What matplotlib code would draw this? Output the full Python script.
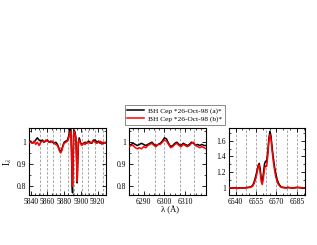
import matplotlib
matplotlib.use("Agg")
import matplotlib.pyplot as plt
from matplotlib.ticker import MultipleLocator

plt.rcParams['font.family'] = ['Liberation Serif', 'DejaVu Serif']
plt.rcParams['mathtext.fontset'] = 'stix'

# ---------------- data ----------------
labels = ["BH Cep *26-Oct-98 (a)*", "BH Cep *26-Oct-98 (b)*"]

w1 = [5838, 5840, 5842, 5844, 5846, 5848, 5850, 5852, 5854, 5856,
      5858, 5860, 5862, 5864, 5866, 5868, 5870, 5872, 5873.5, 5875,
      5876, 5877, 5878.5, 5880, 5882, 5884, 5885.5, 5887, 5888, 5888.8,
      5889.5, 5890, 5890.6, 5891.3, 5892, 5893, 5894, 5894.8, 5895.5, 5896.3,
      5897, 5898, 5899.5, 5901, 5903, 5905, 5907, 5909, 5911, 5913,
      5915, 5917, 5919, 5921, 5923, 5925, 5927, 5930]
f1a = [1.0, 1.005, 0.995, 1.0, 1.01, 1.02, 1.01, 1.005, 1.01, 1.0,
       1.005, 1.01, 1.0, 1.005, 1.0, 0.995, 1.0, 0.99, 0.975, 0.96,
       0.958, 0.965, 0.985, 1.0, 1.005, 1.01, 1.03, 1.065, 1.06, 0.95,
       0.80, 0.77, 0.9, 1.03, 1.055, 1.045, 1.02, 0.92, 0.815, 0.92,
       1.0, 1.02, 1.0, 0.99, 0.995, 1.0, 0.995, 1.005, 1.0, 0.995,
       1.01, 1.01, 1.0, 1.005, 0.995, 1.0, 0.995, 1.0]
f1b = [1.0, 1.0, 0.995, 1.005, 0.99, 1.0, 0.985, 1.0, 1.005, 1.0,
       1.01, 1.005, 1.0, 1.0, 1.005, 0.995, 0.99, 0.985, 0.97, 0.955,
       0.952, 0.96, 0.98, 0.995, 1.0, 1.005, 1.02, 1.045, 1.05, 0.96,
       0.83, 0.80, 0.91, 1.03, 1.05, 1.04, 1.01, 0.93, 0.82, 0.93,
       1.0, 1.01, 0.995, 0.985, 0.995, 0.99, 1.0, 1.0, 0.995, 1.0,
       1.005, 1.0, 0.995, 1.0, 1.005, 0.99, 1.0, 0.995]

w2 = [6283, 6284, 6285, 6286, 6287, 6288, 6289, 6290, 6291, 6292,
      6293, 6294, 6295, 6296, 6297, 6298, 6299, 6300, 6301, 6302,
      6303, 6304, 6305, 6306, 6307, 6308, 6309, 6310, 6311, 6312,
      6313, 6314, 6315, 6316, 6317, 6318, 6319, 6320]
f2a = [0.985, 0.99, 0.995, 0.99, 0.985, 0.99, 0.995, 0.99, 0.985, 0.99,
       0.995, 1.0, 0.99, 0.985, 0.99, 0.995, 1.005, 1.02, 1.015, 0.995,
       0.98, 0.985, 0.995, 1.0, 0.99, 0.985, 0.995, 0.99, 0.985, 0.99,
       1.0, 0.995, 0.985, 0.99, 0.985, 0.99, 0.985, 0.985]
f2b = [0.98, 0.985, 0.985, 0.975, 0.97, 0.975, 0.97, 0.98, 0.975, 0.985,
       0.99, 0.995, 0.985, 0.98, 0.99, 0.99, 1.0, 1.01, 1.005, 0.99,
       0.975, 0.98, 0.99, 0.995, 0.985, 0.98, 0.99, 0.985, 0.98, 0.985,
       0.995, 1.0, 0.985, 0.98, 0.975, 0.98, 0.975, 0.97]

w3 = [6535, 6537, 6539, 6541, 6543, 6545, 6547, 6549, 6551, 6552.5,
      6553.5, 6554.5, 6555.5, 6556.5, 6557.3, 6558, 6558.8, 6559.6, 6560.4, 6561.2,
      6562, 6562.8, 6563.6, 6564.4, 6565.2, 6566, 6566.8, 6567.6, 6568.5, 6569.5,
      6570.5, 6571.5, 6572.5, 6573.5, 6575, 6577, 6579, 6581, 6583, 6585,
      6587, 6589, 6591]
f3a = [1.0, 0.995, 1.0, 0.995, 1.0, 0.995, 1.0, 1.005, 1.01, 1.03,
       1.07, 1.13, 1.2, 1.28, 1.31, 1.25, 1.12, 1.08, 1.18, 1.3,
       1.34, 1.33, 1.45, 1.62, 1.72, 1.66, 1.52, 1.40, 1.28, 1.18,
       1.11, 1.06, 1.03, 1.01, 1.005, 1.0, 1.005, 0.995, 1.0, 1.005,
       1.0, 0.995, 1.0]
f3b = [0.995, 1.0, 0.995, 0.99, 0.995, 1.0, 0.995, 1.0, 1.005, 1.02,
       1.05, 1.1, 1.17, 1.26, 1.29, 1.2, 1.08, 1.04, 1.12, 1.24,
       1.28, 1.27, 1.4, 1.58, 1.68, 1.62, 1.47, 1.35, 1.24, 1.14,
       1.08, 1.04, 1.02, 1.005, 1.0, 0.995, 1.0, 1.0, 0.995, 1.0,
       1.005, 1.0, 0.995]

grid1 = [5851, 5859, 5867, 5875, 5884, 5892, 5901, 5909, 5917, 5926]
grid2 = [6287.5, 6295.5, 6300, 6307.5, 6314]
grid3 = [6540, 6547.5, 6555, 6562.5, 6570, 6577.5, 6585]

xt1 = [5840, 5860, 5880, 5900, 5920]
xt2 = [6290, 6300, 6310]
xt3 = [6540, 6555, 6570, 6585]
yt1 = [0.8, 0.9, 1.0]
yt3 = [1.0, 1.2, 1.4, 1.6]

# ---------------- figure ----------------
fig = plt.figure(figsize=(3.17, 2.45), dpi=100)

panels = [
    dict(pos=[0.0915, 0.204, 0.243, 0.273], w=w1, a=f1a, b=f1b, grid=grid1,
         xlim=(5838, 5930), ylim=(0.76, 1.064), xt=xt1, yt=yt1,
         xminor=5, yminor=0.05),
    dict(pos=[0.407, 0.204, 0.243, 0.273], w=w2, a=f2a, b=f2b, grid=grid2,
         xlim=(6283, 6320), ylim=(0.76, 1.064), xt=xt2, yt=yt1,
         xminor=2.5, yminor=0.05),
    dict(pos=[0.722, 0.204, 0.240, 0.273], w=w3, a=f3a, b=f3b, grid=grid3,
         xlim=(6535, 6591), ylim=(0.907, 1.76), xt=xt3, yt=yt3,
         xminor=5, yminor=0.1),
]

axes = []
for p in panels:
    ax = fig.add_axes(p['pos'])
    for g in p['grid']:
        ax.axvline(g, color='#999999', lw=0.6, ls=(0, (3, 2)), zorder=0)
    la, = ax.plot(p['w'], p['a'], color='black', lw=1.1, zorder=2)
    lb, = ax.plot(p['w'], p['b'], color='#ff0000', lw=1.1, zorder=3)
    ax.set_xlim(*p['xlim'])
    ax.set_ylim(*p['ylim'])
    ax.set_xticks(p['xt'])
    ax.set_xticklabels([str(int(v)) for v in p['xt']])
    ax.set_yticks(p['yt'])
    ax.set_yticklabels([('%g' % v) for v in p['yt']])
    ax.xaxis.set_minor_locator(MultipleLocator(p['xminor']))
    ax.yaxis.set_minor_locator(MultipleLocator(p['yminor']))
    ax.tick_params(which='both', direction='in', top=True, right=True,
                   labelsize=5.5, pad=2)
    ax.tick_params(which='major', length=3, width=0.6)
    ax.tick_params(which='minor', length=1.5, width=0.5)
    for s in ax.spines.values():
        s.set_linewidth(0.8)
    axes.append(ax)

axes[0].set_ylabel(r'I$_\lambda$', fontsize=7, labelpad=2)

fig.text(0.535, 0.143, u'λ (Å)', ha='center', va='center', fontsize=6.2)

leg = fig.legend([la, lb], labels, loc='lower left',
                 bbox_to_anchor=(0.394, 0.49), fontsize=5.3,
                 frameon=True, fancybox=False, borderpad=0.35,
                 handlelength=2.2, handletextpad=0.6, labelspacing=0.25,
                 borderaxespad=0)
leg.get_frame().set_edgecolor('#555555')
leg.get_frame().set_linewidth(0.6)

fig.savefig('out.png', dpi=100)
